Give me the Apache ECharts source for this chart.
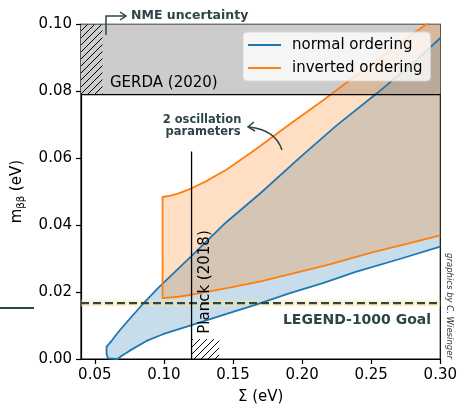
<!DOCTYPE html>
<html><head><meta charset="utf-8">
<script src="https://cdn.jsdelivr.net/npm/echarts@6/dist/echarts.min.js"></script>
<style>html,body{margin:0;padding:0;background:#fff}#c{width:460px;height:410px}</style>
</head><body><div id="c"></div>
<script>
// [Σ (eV), m_ββ (eV)] boundaries
const noUpper = [[0.0585,0.0037],[0.0605,0.0046],[0.0621,0.0054],[0.0652,0.0071],[0.0681,0.0086],[0.0742,0.0115],[0.0849,0.0165],[0.0957,0.0212],[0.1195,0.0306],[0.1449,0.0408],[0.1700,0.0496],[0.1987,0.0603],[0.2250,0.0698],[0.2548,0.0796],[0.2841,0.0898],[0.3000,0.0959]];
const noLower = [[0.0585,0.0016],[0.0590,0.0008],[0.0597,0.0002],[0.0602,0],[0.0665,0],[0.0690,0.0008],[0.0753,0.0025],[0.0874,0.0054],[0.0993,0.0074],[0.1200,0.0101],[0.1402,0.0128],[0.1650,0.0160],[0.1907,0.0196],[0.2150,0.0227],[0.2388,0.0260],[0.2700,0.0298],[0.3000,0.0336]];
const ioUpper = [[0.0990,0.0484],[0.1050,0.0488],[0.1107,0.0495],[0.1200,0.0510],[0.1300,0.0530],[0.1455,0.0566],[0.1670,0.0628],[0.1905,0.0700],[0.2155,0.0774],[0.2400,0.0850],[0.2680,0.0935],[0.2892,0.0998],[0.3000,0.1032]];
const ioLower = [[0.0990,0.0182],[0.1107,0.0186],[0.1200,0.0192],[0.1300,0.0200],[0.1455,0.0212],[0.1700,0.0232],[0.1950,0.0257],[0.2200,0.0283],[0.2500,0.0318],[0.2750,0.0343],[0.3000,0.0369]];

const xRange = [0.04, 0.30];
const yRange = [0, 0.10];
const xTicks = [0.05, 0.10, 0.15, 0.20, 0.25, 0.30];
const yInterval = 0.02;

const gerdaLimit = 0.079;
const nmeRange = [0.04, 0.0555];
const legendGoal = 0.0167;
const legendBand = [0.0157, 0.0177];
const planckSum = 0.12;
const planckTop = 0.062;
const planckHatch = [0.12, 0.14, 0.006];

const seriesNames = ['normal ordering', 'inverted ordering'];
const BLUE = '#1f77b4', ORANGE = '#ff7f0e', INK = '#2e4548';
const FONT = 'DejaVu Sans';

function hatchPattern() {
  const c = document.createElement('canvas');
  c.width = 7; c.height = 7;
  const g = c.getContext('2d');
  g.strokeStyle = '#000'; g.lineWidth = 1;
  for (const k of [-7, 0, 7]) {
    g.beginPath(); g.moveTo(k - 1, 8); g.lineTo(k + 8, -1); g.stroke();
  }
  return {image: c, repeat: 'repeat'};
}
const HATCH = hatchPattern();

function rectSeries(x0, x1, y0, y1, fill, z) {
  return {
    type: 'custom', coordinateSystem: 'cartesian2d', clip: true, silent: true, z: z,
    data: [[x0, y0, x1, y1]],
    encode: {x: [0, 2], y: [1, 3]},
    renderItem: function (p, api) {
      const a = api.coord([api.value(0), api.value(1)]);
      const b = api.coord([api.value(2), api.value(3)]);
      return {type: 'rect', shape: {x: Math.min(a[0], b[0]), y: Math.min(a[1], b[1]),
        width: Math.abs(b[0] - a[0]), height: Math.abs(b[1] - a[1])}, style: {fill: fill}};
    }
  };
}
function polySeries(upper, lower, fill, z) {
  const pts = upper.concat(lower.slice().reverse());
  return {
    type: 'custom', coordinateSystem: 'cartesian2d', clip: true, silent: true, z: z,
    data: [pts[0]],
    renderItem: function (p, api) {
      return {type: 'polygon', shape: {points: pts.map(q => api.coord(q))}, style: {fill: fill}};
    }
  };
}
function boundary(upper, lower) {
  return upper.slice().reverse().concat(lower);
}
function lineSeries(name, data, color, width, z, dash) {
  return {name: name, type: 'line', data: data, symbol: 'none', silent: true, z: z, clip: true,
    lineStyle: {color: color, width: width, type: dash || 'solid'}, itemStyle: {color: color}};
}

const chart = echarts.init(document.getElementById('c'), null, {renderer: 'canvas'});
chart.setOption({
  animation: false,
  textStyle: {fontFamily: FONT},
  grid: {left: 81, right: 18.3, top: 24.3, bottom: 46.7, show: true, borderColor: '#000', borderWidth: 1.2, backgroundColor: 'transparent'},
  xAxis: {
    type: 'value', min: xRange[0], max: xRange[1],
    name: 'Σ (eV)', nameLocation: 'middle', nameGap: 31,
    nameTextStyle: {fontSize: 15, color: '#000', fontFamily: FONT},
    axisLine: {onZero: false, lineStyle: {color: '#000', width: 1.2}},
    axisTick: {show: true, length: 5, lineStyle: {color: '#000', width: 1.2}, customValues: xTicks},
    axisLabel: {customValues: xTicks, margin: 9, fontSize: 15, color: '#000', fontFamily: FONT, formatter: v => v.toFixed(2)},
    splitLine: {show: false}
  },
  yAxis: {
    type: 'value', min: yRange[0], max: yRange[1], interval: yInterval,
    name: 'm{s|ββ} (eV)', nameLocation: 'middle', nameGap: 55, nameRotate: 90,
    nameTextStyle: {fontSize: 15, color: '#000', fontFamily: FONT, lineHeight: 18,
      rich: {s: {fontSize: 10, fontFamily: FONT, color: '#000', verticalAlign: 'bottom', lineHeight: 10}}},
    axisLine: {onZero: false, lineStyle: {color: '#000', width: 1.2}},
    axisTick: {show: true, length: 5, lineStyle: {color: '#000', width: 1.2}},
    axisLabel: {margin: 9, fontSize: 15, color: '#000', fontFamily: FONT, formatter: v => v.toFixed(2)},
    splitLine: {show: false}
  },
  legend: {
    data: seriesNames, orient: 'vertical', left: 243, top: 32,
    icon: 'rect', padding: [4, 8, 4, 5], itemGap: 5, itemWidth: 33, itemHeight: 2,
    textStyle: {fontSize: 15, color: '#000', fontFamily: FONT, lineHeight: 18, padding: [0, 0, 0, 6]},
    backgroundColor: 'rgba(255,255,255,0.8)', borderColor: '#d6d6d6', borderWidth: 1, borderRadius: 4
  },
  series: [
    rectSeries(xRange[0], xRange[1], gerdaLimit, yRange[1], '#cccccc', 1),
    polySeries(noUpper, noLower, 'rgba(31,119,180,0.25)', 2),
    polySeries(ioUpper, ioLower, 'rgba(255,127,14,0.25)', 2.1),
    rectSeries(xRange[0], xRange[1], legendBand[0], legendBand[1], 'rgba(250,228,150,0.45)', 2.2),
    lineSeries(seriesNames[0], boundary(noUpper, noLower), BLUE, 1.8, 3),
    lineSeries(seriesNames[1], boundary(ioUpper, ioLower), ORANGE, 1.8, 3.1),
    lineSeries('gerda', [[xRange[0], gerdaLimit], [xRange[1], gerdaLimit]], '#000', 1.3, 4),
    lineSeries('legend1000', [[xRange[0], legendGoal], [xRange[1], legendGoal]], INK, 2.4, 4, [8, 4]),
    lineSeries('planck', [[planckSum, 0], [planckSum, planckTop]], '#000', 1.3, 4),
    rectSeries(nmeRange[0], nmeRange[1], gerdaLimit, yRange[1], HATCH, 4),
    rectSeries(planckHatch[0], planckHatch[1], 0, planckHatch[2], HATCH, 4)
  ],
  graphic: [
    {type: 'text', left: 110, top: 76, silent: true, z: 10,
      style: {text: 'GERDA (2020)', fontSize: 15, fontFamily: FONT, fill: '#000'}},
    {type: 'text', x: 205.5, y: 282, rotation: Math.PI / 2, silent: true, z: 10,
      style: {text: 'Planck (2018)', fontSize: 15, fontFamily: FONT, fill: '#000', align: 'center', verticalAlign: 'middle'}},
    {type: 'text', x: 449, y: 306, rotation: -Math.PI / 2, silent: true, z: 10,
      style: {text: 'graphics by C. Wiesinger', fontSize: 8.5, fontStyle: 'italic', fontFamily: FONT, fill: '#333', align: 'center', verticalAlign: 'middle'}},
    {type: 'text', x: 131, y: 16, silent: true, z: 10,
      style: {text: 'NME uncertainty', fontSize: 12.5, fontWeight: 'bold', fontFamily: FONT, fill: INK, align: 'left', verticalAlign: 'middle'}},
    {type: 'polyline', silent: true, z: 10, shape: {points: [[106, 35], [106, 16], [125, 16]]},
      style: {stroke: INK, lineWidth: 1.5, fill: null}},
    {type: 'polyline', silent: true, z: 10, shape: {points: [[120, 12], [126, 16], [120, 20]]},
      style: {stroke: INK, lineWidth: 1.5, fill: null}},
    {type: 'text', x: 202, y: 120, silent: true, z: 10,
      style: {text: '2 oscillation', fontSize: 11.5, fontWeight: 'bold', fontFamily: FONT, fill: INK, align: 'center', verticalAlign: 'middle'}},
    {type: 'text', x: 203, y: 132, silent: true, z: 10,
      style: {text: 'parameters', fontSize: 11.5, fontWeight: 'bold', fontFamily: FONT, fill: INK, align: 'center', verticalAlign: 'middle'}},
    {type: 'bezierCurve', silent: true, z: 10, shape: {x1: 282, y1: 150, cpx1: 278, cpy1: 138, cpx2: 268, cpy2: 129, x2: 249, y2: 127},
      style: {stroke: INK, lineWidth: 1.5, fill: null}},
    {type: 'polyline', silent: true, z: 10, shape: {points: [[254, 122], [248, 127], [255, 131]]},
      style: {stroke: INK, lineWidth: 1.5, fill: null}},
    {type: 'text', x: 357, y: 320, silent: true, z: 10,
      style: {text: 'LEGEND-1000 Goal', fontSize: 14, fontWeight: 'bold', fontFamily: FONT, fill: INK, align: 'center', verticalAlign: 'middle'}},
    {type: 'line', silent: true, z: 10, shape: {x1: 0, y1: 308, x2: 34, y2: 308},
      style: {stroke: INK, lineWidth: 2}}
  ]
});
</script></body></html>
